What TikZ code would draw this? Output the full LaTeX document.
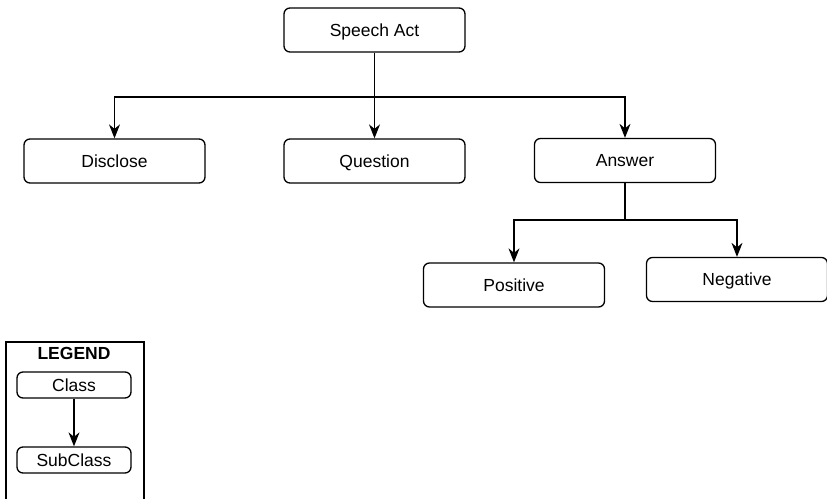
\documentclass[tikz,border=0pt]{standalone}
\usepackage{fontspec}
\setmainfont{Liberation Sans}
\usetikzlibrary{arrows.meta}
\begin{document}
\begin{tikzpicture}[x=1pt,y=-1pt,
  txt/.style={font=\fontsize{17.5pt}{20pt}\selectfont, text height=12.5pt, text depth=0pt},
  cls/.style={draw, line width=1.3pt, rounded corners=6pt, inner sep=0pt, txt,
    minimum width=181pt, minimum height=44pt},
  lcls/.style={draw, line width=1.3pt, rounded corners=6pt, inner sep=0pt, txt,
    minimum width=114pt, minimum height=26pt},
  conn/.style={line width=1.3pt},
  arr/.style={line width=1.3pt, -{Stealth[length=14pt,width=11pt,inset=4.5pt]}}]
\useasboundingbox (0,0) rectangle (827,498);
\fill[white] (0,0) rectangle (827,498);

\node[cls] (sa) at (374.5,30) {Speech Act};
\node[cls] (dis) at (114.5,161) {Disclose};
\node[cls] (que) at (374.5,161) {Question};
\node[cls] (ans) at (625,160.5) {Answer};
\node[cls] (pos) at (514,285) {Positive};
\node[cls] (neg) at (737,279.5) {Negative};

\coordinate (j1) at (374.5,97);
\coordinate (j2) at (625,220);

\draw[conn] (sa.south) -- (j1);
\draw[arr] (j1) -- (que.north);
\draw[arr] (j1) -| (dis.north);
\draw[arr] (j1) -| (ans.north);
\draw[conn] (ans.south) -- (j2);
\draw[arr] (j2) -| (pos.north);
\draw[arr] (j2) -| (neg.north);

% legend
\draw[line width=1.3pt] (6,505) -- (6,342) -- (144,342) -- (144,505);
\node[txt, font=\bfseries\fontsize{17.5pt}{20pt}\selectfont] (lt) at (74,353) {LEGEND};
\node[lcls] (lc) at (74,385) {Class};
\node[lcls] (ls) at (74,460) {SubClass};
\draw[arr] (lc.south) -- (ls.north);
\end{tikzpicture}
\end{document}
